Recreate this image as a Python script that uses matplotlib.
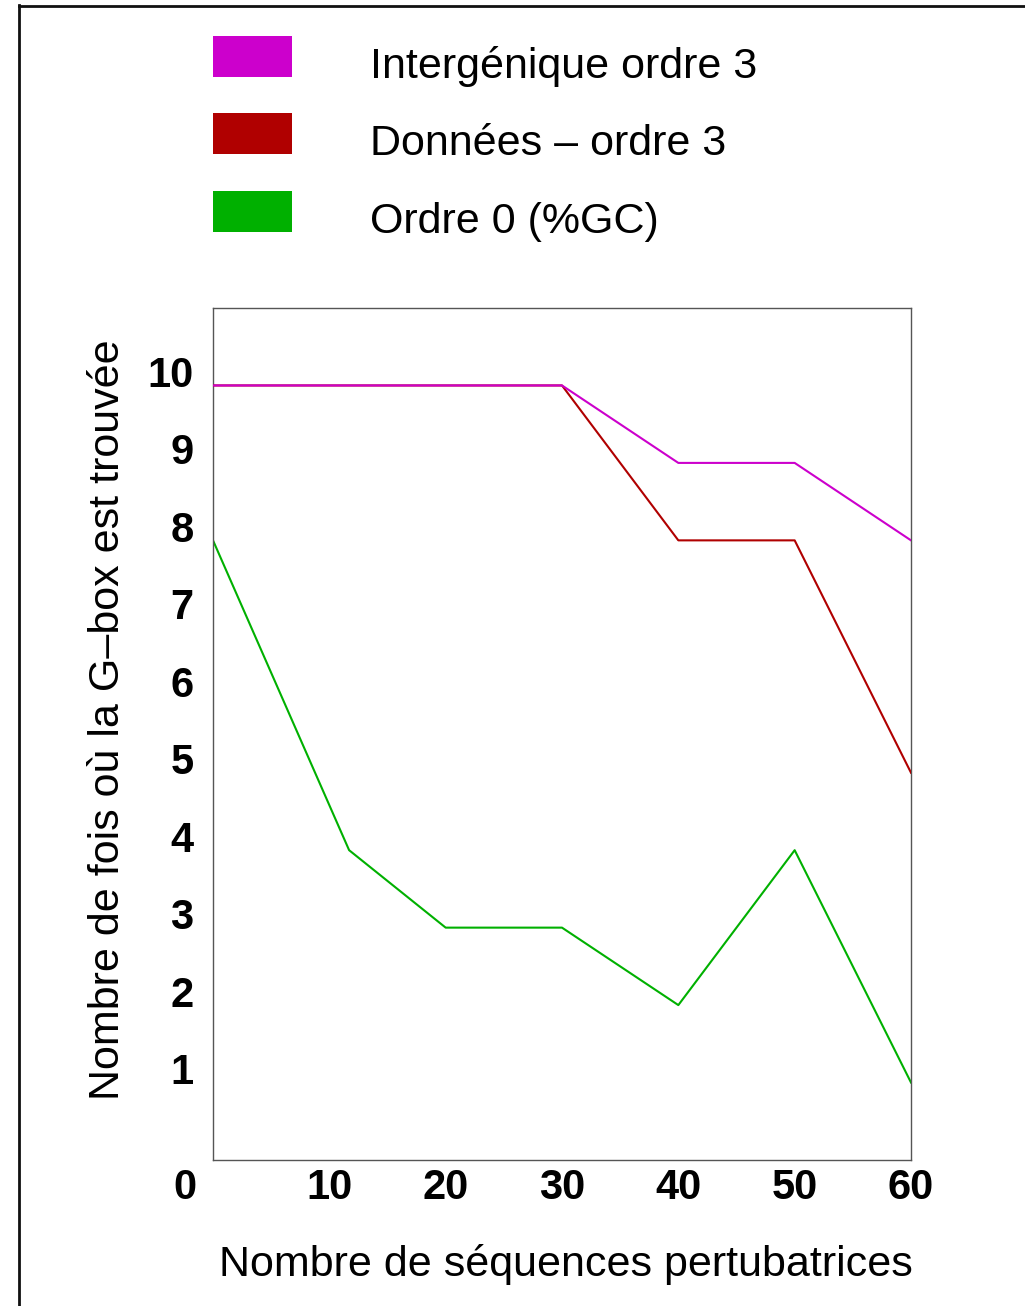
import matplotlib.pyplot as plt
from matplotlib.patches import Rectangle
from matplotlib.lines import Line2D
from matplotlib.transforms import ScaledTranslation

# nombre de sequences perturbatrices
x = [0, 11.7, 20, 30, 40, 50, 60]
# nombre de fois ou la G-box est trouvee
inter3 = [10, 10, 10, 10, 9, 9, 8]
donnees3 = [10, 10, 10, 10, 8, 8, 5]
ordre0 = [8, 4, 3, 3, 2, 4, 1]

noms = ['Intergénique ordre 3', 'Données – ordre 3', 'Ordre 0 (%GC)']
couleurs = ['#cc00cc', '#b00000', '#00b000']

xticks = [0, 10, 20, 30, 40, 50, 60]
yticks = [1, 2, 3, 4, 5, 6, 7, 8, 9, 10]

plt.rcParams['font.family'] = ['Liberation Sans', 'DejaVu Sans']

W, H = 1025, 1306
fig = plt.figure(figsize=(W / 100, H / 100), dpi=100)
ax = fig.add_axes([213 / W, 1 - 1160 / H, 698 / W, 852 / H])

# la courbe magenta passe au-dessus de la rouge
ax.plot(x, ordre0, color=couleurs[2], lw=1.5, zorder=2)
ax.plot(x, donnees3, color=couleurs[1], lw=1.5, zorder=3)
ax.plot(x, inter3, color=couleurs[0], lw=1.5, zorder=4)

ax.set_xlim(0, 60)
ax.set_ylim(0, 11)
for s in ax.spines.values():
    s.set_color('#555555')
    s.set_linewidth(1.0)

tickfont = dict(family=['Liberation Sans Narrow', 'Liberation Sans'],
                weight='bold', size=30)
ax.set_xticks(xticks)
ax.set_xticklabels([str(v) for v in xticks], fontdict=tickfont)
ax.set_yticks(yticks)
ax.set_yticklabels([str(v) for v in yticks], fontdict=tickfont)
ax.tick_params(length=0)
ax.tick_params(axis='x', pad=6)
ax.tick_params(axis='y', pad=14)

# les etiquettes y sont decalees vers le haut
for lab in ax.get_yticklabels():
    lab.set_transform(lab.get_transform() + ScaledTranslation(0, 0.14, fig.dpi_scale_trans))
# le 0 est place a gauche du coin
lab0 = ax.get_xticklabels()[0]
lab0.set_transform(lab0.get_transform() + ScaledTranslation(-0.28, 0, fig.dpi_scale_trans))

ax.set_xlabel('Nombre de séquences pertubatrices', fontsize=31, labelpad=26)
ax.set_ylabel('Nombre de fois où la G–box est trouvée', fontsize=31, labelpad=14)
ax.xaxis.label.set_x(0.5 + 4 / 698)
ax.yaxis.label.set_y(0.5 + 14 / 852)

# legende en haut, hors du graphe
tops = [35.7, 113.3, 190.7]
for nom, c, t in zip(noms, couleurs, tops):
    fig.add_artist(Rectangle((213 / W, 1 - (t + 41) / H), 79 / W, 41 / H,
                             facecolor=c, edgecolor='none', transform=fig.transFigure))
    fig.text(370 / W, 1 - (t + 42) / H, nom, fontsize=31, va='baseline', ha='left')

# cadre exterieur
fig.add_artist(Line2D([18.5 / W, 18.5 / W], [1 - 5 / H, 0], color='#111111', lw=2.0,
                      transform=fig.transFigure))
fig.add_artist(Line2D([18.5 / W, 1], [1 - 5.5 / H, 1 - 5.5 / H], color='#111111', lw=2.0,
                      transform=fig.transFigure))

fig.savefig('out.png', dpi=100)
